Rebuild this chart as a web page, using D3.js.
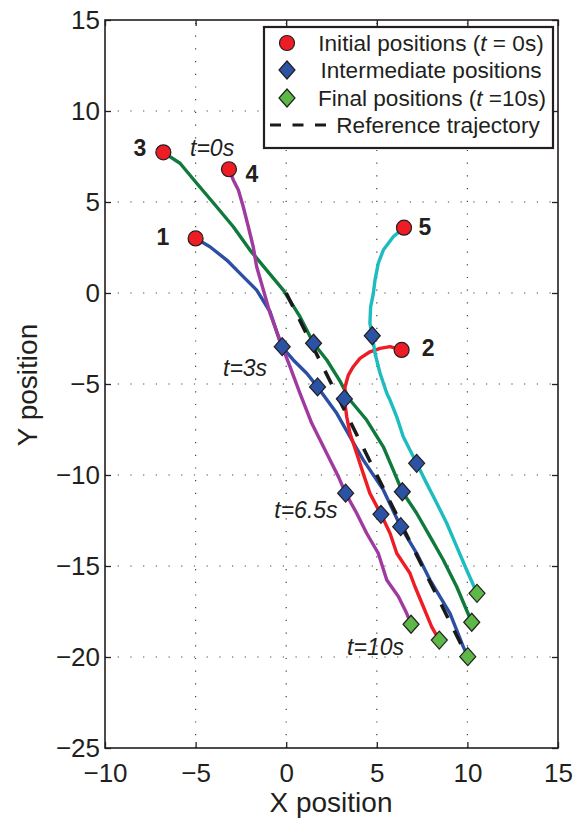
<!DOCTYPE html>
<html>
<head>
<meta charset="utf-8">
<script src="https://cdn.jsdelivr.net/npm/d3@7"></script>
<style>
  body { margin: 0; background: #fff; }
  svg { display: block; font-family: "Liberation Sans", Arial, Helvetica, sans-serif; }
</style>
</head>
<body>
<svg width="577" height="826"></svg>
<script>
// trajectories of the five agents (x, y)
const traj1 = [[-4.99,3.0],[-4.21,2.54],[-3.28,1.81],[-2.55,1.08],[-1.63,0.16],[-0.89,-1.03],[-0.25,-2.95],
  [0.39,-3.68],[1.13,-4.41],[1.73,-5.16],[2.79,-6.61],[3.52,-7.9],[4.26,-9.18],[5.36,-10.82],[6.32,-12.84],
  [7.2,-14.3],[7.94,-15.77],[9.04,-17.6],[9.77,-19.43],[10.02,-19.98]];
const traj2 = [[6.37,-3.13],[5.73,-2.95],[5.18,-3.04],[4.62,-3.23],[4.07,-3.59],[3.7,-4.05],[3.43,-4.51],
  [3.25,-5.15],[3.21,-5.82],[3.34,-6.8],[3.52,-7.71],[3.89,-8.81],[4.25,-9.91],[4.62,-11.01],[5.23,-12.16],
  [5.73,-13.2],[6.1,-14.3],[6.83,-15.4],[7.11,-16.14],[7.57,-17.24],[8.03,-18.34],[8.45,-19.07]];
const traj3 = [[-6.78,7.73],[-5.86,7.13],[-4.94,6.03],[-3.84,4.74],[-2.92,3.64],[-2.0,2.36],[-1.08,1.26],
  [-0.16,0.16],[0.76,-1.3],[1.51,-2.76],[2.24,-3.68],[2.97,-4.84],[3.52,-5.88],[4.44,-6.98],[5.36,-8.45],
  [5.91,-9.73],[6.41,-10.92],[7.2,-12.1],[7.94,-13.39],[8.67,-14.67],[9.41,-16.14],[10.24,-18.09]];
const traj4 = [[-3.16,6.8],[-2.92,6.21],[-2.64,5.66],[-2.37,4.74],[-2.09,3.64],[-1.82,2.54],[-1.63,1.44],
  [-1.26,0.16],[-0.89,-1.12],[-0.22,-2.95],[0.21,-4.05],[0.76,-5.51],[1.41,-7.16],[1.87,-8.08],[2.42,-9.18],
  [2.88,-10.09],[3.28,-11.0],[3.89,-12.1],[4.44,-13.2],[5.08,-14.3],[5.55,-15.77],[6.19,-16.68],[6.65,-17.6],[6.89,-18.2]];
const traj5 = [[6.5,3.59],[5.91,3.09],[5.36,2.36],[5.08,1.63],[4.9,0.71],[4.81,-0.02],[4.66,-0.76],[4.62,-1.66],
  [4.75,-2.35],[4.9,-3.31],[5.18,-4.41],[5.55,-5.51],[5.73,-5.88],[6.1,-6.8],[6.46,-7.9],[7.2,-9.36],
  [7.75,-10.46],[8.31,-11.55],[8.86,-12.65],[9.41,-13.94],[9.96,-15.22],[10.53,-16.5]];
const reference = [[0,0],[10,-20]];

const initialPositions = [[-5,3],[6.37,-3.13],[-6.78,7.73],[-3.16,6.8],[6.5,3.59]];
const intermediatePositions = [[1.73,-5.16],[6.32,-12.84],[3.21,-5.82],[5.23,-12.16],[1.51,-2.76],[6.41,-10.92],
  [-0.22,-2.95],[3.28,-11.0],[4.75,-2.35],[7.2,-9.36]];
const finalPositions = [[10.02,-19.98],[8.45,-19.07],[10.24,-18.09],[6.89,-18.2],[10.53,-16.5]];

const agentLabels = [["1",-6.8,3.08],["2",7.83,-3.02],["3",-8.07,7.97],["4",-1.89,6.58],["5",7.66,3.63]];
const timeLabels = [["t=0s",-4.09,7.97],["t=3s",-2.27,-4.12],["t=6.5s",1.09,-11.92],["t=10s",4.93,-19.45]];

const xTicks = [-10,-5,0,5,10,15];
const yTicks = [-25,-20,-15,-10,-5,0,5,10,15];

const svg = d3.select("svg");
const ink = "#231f20";
const x = d3.scaleLinear().domain([-10,15]).range([105,558]);
const y = d3.scaleLinear().domain([-25,15]).range([748,20]);

// dotted grid
const grid = svg.append("g").attr("stroke", "#444").attr("stroke-width", 1.2).attr("stroke-dasharray", "1.2,11.5");
grid.selectAll(".gx").data(xTicks.slice(1,-1)).enter().append("line")
  .attr("x1", d => x(d)).attr("x2", d => x(d)).attr("y1", 748).attr("y2", 20);
grid.selectAll(".gy").data(yTicks.slice(1,-1)).enter().append("line")
  .attr("y1", d => y(d)).attr("y2", d => y(d)).attr("x1", 105).attr("x2", 558);

// axes, ticks inward like matlab
function styleAxis(g) {
  g.select(".domain").remove();
  g.selectAll("line").attr("stroke", ink).attr("stroke-width", 1.3);
  g.selectAll("text").attr("fill", ink).attr("font-size", 26);
}
svg.append("g").attr("transform", "translate(0,748)")
  .call(d3.axisBottom(x).tickValues(xTicks).tickSizeInner(-6).tickSizeOuter(0).tickPadding(16)
    .tickFormat(d => d < 0 ? "\u2212" + Math.abs(d) : d))
  .call(styleAxis);
svg.append("g").attr("transform", "translate(105,0)")
  .call(d3.axisLeft(y).tickValues(yTicks).tickSizeInner(-6).tickSizeOuter(0).tickPadding(5)
    .tickFormat(d => d < 0 ? "\u2212" + Math.abs(d) : d))
  .call(styleAxis);
svg.append("g").attr("transform", "translate(0,20)")
  .call(d3.axisTop(x).tickValues(xTicks).tickSizeInner(-6).tickSizeOuter(0).tickFormat(""))
  .call(styleAxis);
svg.append("g").attr("transform", "translate(558,0)")
  .call(d3.axisRight(y).tickValues(yTicks).tickSizeInner(-6).tickSizeOuter(0).tickFormat(""))
  .call(styleAxis);

svg.append("rect").attr("x", 105).attr("y", 20).attr("width", 453).attr("height", 728)
  .attr("fill", "none").attr("stroke", ink).attr("stroke-width", 1.6);

// trajectories
const line = d3.line().x(d => x(d[0])).y(d => y(d[1]));
const paths = [[traj1, "#2c4ea3"], [traj3, "#0f7a3b"], [traj2, "#ee1d25"], [traj5, "#1cbcbf"], [traj4, "#a03a9f"]];
svg.append("g").selectAll("path").data(paths).enter().append("path")
  .attr("d", d => line(d[0]))
  .attr("fill", "none").attr("stroke", d => d[1]).attr("stroke-width", 3.4)
  .attr("stroke-linejoin", "round").attr("stroke-linecap", "round");

svg.append("path").attr("d", line(reference))
  .attr("fill", "none").attr("stroke", "#1a1a1a").attr("stroke-width", 3.6)
  .attr("stroke-dasharray", "15,14");

// markers
const diamond = (cx, cy) => `M${cx},${cy-9}L${cx+8},${cy}L${cx},${cy+9}L${cx-8},${cy}Z`;
svg.append("g").selectAll("path").data(intermediatePositions).enter().append("path")
  .attr("d", d => diamond(x(d[0]), y(d[1])))
  .attr("fill", "#2b52a3").attr("stroke", ink).attr("stroke-width", 1.2);
svg.append("g").selectAll("path").data(finalPositions).enter().append("path")
  .attr("d", d => diamond(x(d[0]), y(d[1])))
  .attr("fill", "#5db847").attr("stroke", ink).attr("stroke-width", 1.2);
svg.append("g").selectAll("circle").data(initialPositions).enter().append("circle")
  .attr("cx", d => x(d[0])).attr("cy", d => y(d[1])).attr("r", 7.5)
  .attr("fill", "#ee1d25").attr("stroke", ink).attr("stroke-width", 1.2);

// labels
svg.append("g").selectAll("text").data(agentLabels).enter().append("text")
  .attr("x", d => x(d[1])).attr("y", d => y(d[2])).attr("dy", "0.36em")
  .attr("text-anchor", "middle").attr("font-weight", "bold").attr("font-size", 23)
  .attr("fill", ink).text(d => d[0]);
svg.append("g").selectAll("text").data(timeLabels).enter().append("text")
  .attr("x", d => x(d[1])).attr("y", d => y(d[2])).attr("dy", "0.36em")
  .attr("text-anchor", "middle").attr("font-style", "italic").attr("font-size", 23)
  .attr("fill", ink).text(d => d[0]);

// axis titles
svg.append("text").attr("x", 331).attr("y", 812).attr("text-anchor", "middle")
  .attr("font-size", 28).attr("fill", ink).text("X position");
svg.append("text").attr("transform", "translate(37,385) rotate(-90)").attr("text-anchor", "middle")
  .attr("font-size", 28).attr("fill", ink).text("Y position");

// legend
const lg = svg.append("g");
lg.append("rect").attr("x", 264).attr("y", 27).attr("width", 289).attr("height", 121)
  .attr("fill", "#fff").attr("stroke", ink).attr("stroke-width", 2.2);
const rows = [43, 70, 98, 125];
const rowCenters = [431, 431, 432, 438];
lg.append("circle").attr("cx", 287).attr("cy", rows[0]).attr("r", 7.5)
  .attr("fill", "#ee1d25").attr("stroke", ink).attr("stroke-width", 1.2);
lg.append("path").attr("d", diamond(287, rows[1])).attr("fill", "#2b52a3").attr("stroke", ink).attr("stroke-width", 1.2);
lg.append("path").attr("d", diamond(287, rows[2])).attr("fill", "#5db847").attr("stroke", ink).attr("stroke-width", 1.2);
lg.append("line").attr("x1", 270).attr("x2", 326).attr("y1", rows[3]).attr("y2", rows[3])
  .attr("stroke", "#1a1a1a").attr("stroke-width", 3.2).attr("stroke-dasharray", "11,11.5");

const legendText = [
  [["Initial positions (", ""], ["t", "italic"], [" = 0s)", ""]],
  [["Intermediate positions", ""]],
  [["Final positions (", ""], ["t", "italic"], [" =10s)", ""]],
  [["Reference trajectory", ""]]
];
legendText.forEach((parts, i) => {
  const t = lg.append("text").attr("x", rowCenters[i]).attr("y", rows[i]).attr("dy", "0.36em")
    .attr("text-anchor", "middle").attr("font-size", 22.6).attr("fill", ink);
  parts.forEach(p => t.append("tspan").attr("font-style", p[1] || null).text(p[0]));
});
</script>
</body>
</html>
